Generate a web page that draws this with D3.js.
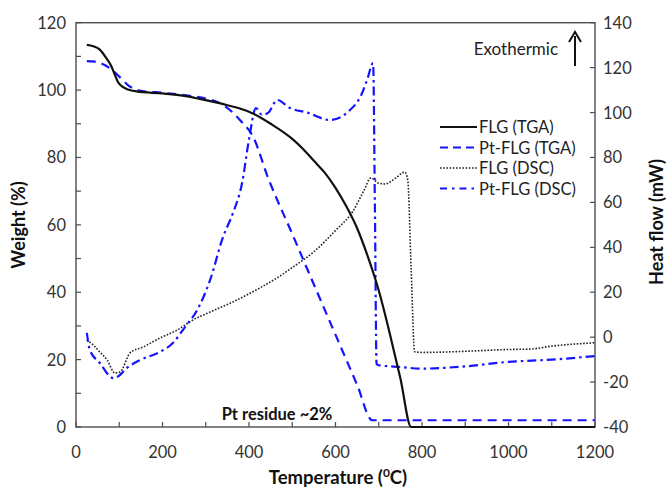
<!DOCTYPE html>
<html><head><meta charset="utf-8">
<script src="https://cdn.jsdelivr.net/npm/d3@7"></script>
<style>body{margin:0;background:#fff}svg{display:block}text{font-family:Lato,"Open Sans",sans-serif}</style>
</head><body>
<svg id="c" width="671" height="488"></svg>
<script>
// ---- data ----
const xTicks = [0,200,400,600,800,1000,1200];
const xMinor = [0,100,200,300,400,500,600,700,800,900,1000,1100,1200];
const leftTicks = [0,20,40,60,80,100,120];
const leftMinor = [0,10,20,30,40,50,60,70,80,90,100,110,120];
const rightTicks = [-40,-20,0,20,40,60,80,100,120,140];

const flgTgaT = [25,40,55,70,80,90,97,110,120,140,200,250,300,350,400,450,500,525,550,575,600,625,650,675,700,725,750,775,800,900,1000,1100,1200];
const flgTgaW = [113.4,113,112,109.5,107.5,104.5,102.4,100.8,100.2,99.6,99,98.3,97,95.5,93.6,90,85.5,82.5,79,75.5,71,65.5,59,50.5,40.5,28,14.5,0,0,0,0,0,0];

const ptTgaT = [25,40,60,80,100,120,150,200,250,300,340,380,410,444,500,550,600,650,685,700,800,900,1000,1100,1200];
const ptTgaW = [108.6,108.5,107.8,106.3,104,101.5,99.8,99.2,98.5,97.5,95.6,91,86,74,57.3,42.3,27.4,12.5,2,2,2,2,2,2,2];

const flgDscT = [25,40,55,72,90,102,125,155,194,234,270,310,363,425,470,500,550,600,640,665,682,700,715,740,760,767,775,783,800,900,1000,1050,1100,1200];
const flgDscH = [-1.3,-3.5,-6.6,-10.2,-16,-15.5,-7,-4.4,-0.4,3.2,7.6,11.2,15.7,21.9,27,31,38,47.5,56,65,70.9,68.5,68.2,71,73.5,70,30,-6.5,-6.8,-6.3,-5.5,-5.3,-4,-2.5];

const ptDscT = [25,32,55,86,97,118,148,194,224,252,280,310,340,363,384,400,416,430,445,465,495,534,587,633,660,673,687,691,695,700,750,800,900,1000,1100,1200];
const ptDscH = [1.9,-5.7,-11.5,-18.2,-17.5,-13.7,-10.2,-6.6,-2.6,4.5,12,25.4,44.6,55.3,68.6,88,102,99,100,105.6,102,100,96.7,101,108,114.5,122,60,-12,-12.5,-13.3,-14,-13,-11,-10,-8.4];

const legendLabels = ["FLG (TGA)","Pt-FLG (TGA)","FLG (DSC)","Pt-FLG (DSC)"];

// ---- layout ----
const L=76, R=595, T=22.7, B=427;
const svg = d3.select("#c");
const x = d3.scaleLinear().domain([0,1200]).range([L,R]);
const yL = d3.scaleLinear().domain([0,120]).range([B,T]);
const yR = d3.scaleLinear().domain([-40,140]).range([B,T]);
const blue = "#1414ff";

// frame
svg.append("rect").attr("x",L).attr("y",T).attr("width",R-L).attr("height",B-T)
  .attr("fill","none").attr("stroke","#4d4d4d").attr("stroke-width",1.4);

// ticks
const tk = svg.append("g").attr("stroke","#4d4d4d").attr("stroke-width",1.2);
xMinor.forEach(v=>tk.append("line").attr("x1",x(v)).attr("x2",x(v)).attr("y1",B).attr("y2",B-5));
leftMinor.forEach(v=>tk.append("line").attr("x1",L).attr("x2",L+5).attr("y1",yL(v)).attr("y2",yL(v)));
rightTicks.forEach(v=>tk.append("line").attr("x1",R).attr("x2",R-5).attr("y1",yR(v)).attr("y2",yR(v)));

const fs=16.5, tc="#333";
xTicks.forEach(v=>svg.append("text").attr("x",x(v)).attr("y",458).attr("text-anchor","middle")
  .attr("font-size",fs).attr("fill",tc).text(v));
leftTicks.forEach(v=>svg.append("text").attr("x",66).attr("y",yL(v)+6).attr("text-anchor","end")
  .attr("font-size",fs).attr("fill",tc).text(v));
rightTicks.forEach(v=>svg.append("text").attr("x",603).attr("y",yR(v)+6).attr("text-anchor","start")
  .attr("font-size",fs).attr("fill",tc).text(v));

// axis titles
svg.append("text").attr("transform","translate(25,225) rotate(-90)").attr("text-anchor","middle")
  .attr("font-size",18).attr("font-weight","bold").attr("fill","#111").text("Weight (%)");
svg.append("text").attr("transform","translate(663,222) rotate(-90)").attr("text-anchor","middle")
  .attr("font-size",18).attr("font-weight","bold").attr("fill","#111").text("Heat flow (mW)");
const xt = svg.append("text").attr("x",338).attr("y",484).attr("text-anchor","middle")
  .attr("font-size",18.5).attr("font-weight","bold").attr("fill","#111");
xt.append("tspan").text("Temperature (");
xt.append("tspan").attr("font-size",12).attr("dy",-7).text("0");
xt.append("tspan").attr("dy",7).text("C)");

// curves
const lineL = (ts,vs)=>d3.line().x((d,i)=>x(ts[i])).y((d,i)=>yL(vs[i])).curve(d3.curveMonotoneX)(ts);
const lineR = (ts,vs)=>d3.line().x((d,i)=>x(ts[i])).y((d,i)=>yR(vs[i])).curve(d3.curveMonotoneX)(ts);

svg.append("path").attr("d",lineR(flgDscT,flgDscH)).attr("fill","none").attr("stroke","#222")
  .attr("stroke-width",1.6).attr("stroke-dasharray","1.6,1.6");
svg.append("path").attr("d",lineR(ptDscT,ptDscH)).attr("fill","none").attr("stroke",blue)
  .attr("stroke-width",2.2).attr("stroke-dasharray","9,4,2.5,4");
svg.append("path").attr("d",lineL(ptTgaT,ptTgaW)).attr("fill","none").attr("stroke",blue)
  .attr("stroke-width",2.2).attr("stroke-dasharray","9,6");
svg.append("path").attr("d",lineL(flgTgaT,flgTgaW)).attr("fill","none").attr("stroke","#111")
  .attr("stroke-width",2.2);

// legend
const styles = [
  {c:"#111",w:2.2,d:null},
  {c:blue,w:2.2,d:"8,5"},
  {c:"#222",w:1.6,d:"1.6,1.6"},
  {c:blue,w:2.2,d:"7,5,2.5,5"}
];
legendLabels.forEach((lab,i)=>{
  const yy = 127 + i*20.5;
  const ln = svg.append("line").attr("x1",440).attr("x2",477).attr("y1",yy).attr("y2",yy)
    .attr("stroke",styles[i].c).attr("stroke-width",styles[i].w);
  if(styles[i].d) ln.attr("stroke-dasharray",styles[i].d);
  svg.append("text").attr("x",479).attr("y",yy+6).attr("font-size",16.5).attr("fill","#222").text(lab);
});

// annotations
svg.append("text").attr("x",558).attr("y",55).attr("text-anchor","end").attr("font-size",17)
  .attr("fill","#222").text("Exothermic");
svg.append("line").attr("x1",575).attr("x2",575).attr("y1",66).attr("y2",36).attr("stroke","#111").attr("stroke-width",2);
svg.append("path").attr("d","M569,42 L575,32 L581,42").attr("fill","none").attr("stroke","#111").attr("stroke-width",2);
svg.append("text").attr("x",277).attr("y",420).attr("text-anchor","middle").attr("font-size",16.5)
  .attr("font-weight","bold").attr("fill","#111").text("Pt residue ~2%");
</script>
</body></html>
